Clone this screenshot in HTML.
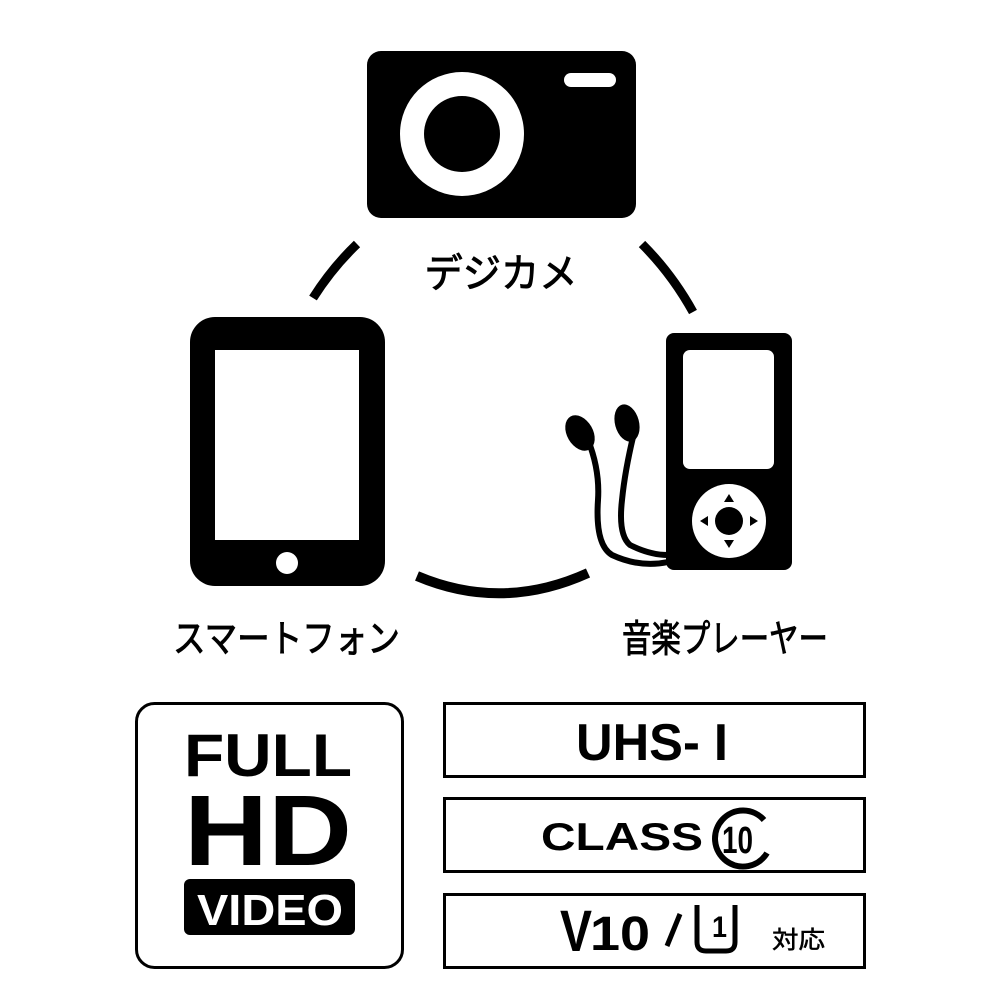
<!DOCTYPE html>
<html><head><meta charset="utf-8"><style>
html,body{margin:0;padding:0;background:#fff;}
svg{display:block;}
text{font-family:"Liberation Sans","Noto Sans CJK JP",sans-serif;}
.jp{stroke:#000;stroke-width:0.9;}
</style></head><body>
<svg width="1000" height="1000" viewBox="0 0 1000 1000" xmlns="http://www.w3.org/2000/svg">
<rect width="1000" height="1000" fill="#fff"/>
<rect x="367" y="51" width="269" height="167" rx="14" fill="#000"/>
<circle cx="462" cy="134" r="62" fill="#fff"/>
<circle cx="462" cy="134" r="38" fill="#000"/>
<rect x="564" y="73" width="52" height="14" rx="7" fill="#fff"/>
<text class="jp" x="501" y="287" font-size="40" text-anchor="middle" textLength="153" lengthAdjust="spacingAndGlyphs">デジカメ</text>
<path d="M313 298 Q332 268 357 244" fill="none" stroke="#000" stroke-width="9"/>
<path d="M642 244 Q672 274 693 312" fill="none" stroke="#000" stroke-width="9"/>
<path d="M417 576 Q502 612 588 573" fill="none" stroke="#000" stroke-width="10"/>
<rect x="190" y="317" width="195" height="269" rx="25" fill="#000"/>
<rect x="215" y="350" width="144" height="190" fill="#fff"/>
<circle cx="287" cy="563" r="11" fill="#fff"/>
<text class="jp" x="173" y="652" font-size="38" textLength="227" lengthAdjust="spacingAndGlyphs">スマートフォン</text>
<rect x="666" y="333" width="126" height="237" rx="8" fill="#000"/>
<rect x="683" y="350" width="91" height="119" rx="7" fill="#fff"/>
<circle cx="729" cy="521" r="37" fill="#fff"/>
<circle cx="729" cy="521" r="14" fill="#000"/>
<polygon points="729,494 724,502 734,502" fill="#000"/>
<polygon points="729,548 724,540 734,540" fill="#000"/>
<polygon points="700,521 708,516 708,526" fill="#000"/>
<polygon points="758,521 750,516 750,526" fill="#000"/>
<ellipse cx="580" cy="433" rx="13" ry="19" transform="rotate(-30 580 433)" fill="#000"/>
<ellipse cx="627" cy="423" rx="12" ry="19" transform="rotate(-15 627 423)" fill="#000"/>
<path d="M588 440 Q600 470 598 500 Q595 545 612 555 Q640 568 668 562" fill="none" stroke="#000" stroke-width="6"/>
<path d="M634 433 Q625 470 622 500 Q618 535 630 545 Q650 555 668 555" fill="none" stroke="#000" stroke-width="6"/>
<text class="jp" x="622" y="652" font-size="38" textLength="206" lengthAdjust="spacingAndGlyphs">音楽プレーヤー</text>
<rect x="136.5" y="703.5" width="266" height="264" rx="18" fill="none" stroke="#000" stroke-width="3"/>
<text x="184" y="776" font-size="60" font-weight="bold" textLength="168" lengthAdjust="spacingAndGlyphs">FULL</text>
<text x="184" y="865" font-size="100" font-weight="bold" textLength="168" lengthAdjust="spacingAndGlyphs">HD</text>
<rect x="184" y="879" width="171" height="56" rx="6" fill="#000"/>
<text x="197" y="925" font-size="44" font-weight="bold" fill="#fff" textLength="146" lengthAdjust="spacingAndGlyphs">VIDEO</text>
<rect x="444.5" y="703.5" width="420" height="73" fill="none" stroke="#000" stroke-width="3"/>
<rect x="444.5" y="798.5" width="420" height="73" fill="none" stroke="#000" stroke-width="3"/>
<rect x="444.5" y="894.5" width="420" height="73" fill="none" stroke="#000" stroke-width="3"/>
<text x="576" y="760" font-size="52" font-weight="bold" textLength="152" lengthAdjust="spacingAndGlyphs">UHS- I</text>
<text x="541" y="850" font-size="39" font-weight="bold" textLength="162" lengthAdjust="spacingAndGlyphs">CLASS</text>
<path d="M764 820 A28 28 0 1 0 767 853" fill="none" stroke="#000" stroke-width="6"/>
<text x="722" y="853" font-size="38" font-weight="bold" textLength="31" lengthAdjust="spacingAndGlyphs">10</text>
<text x="560" y="951" font-size="58" font-weight="bold" textLength="32" lengthAdjust="spacingAndGlyphs">V</text>
<text x="590" y="950" font-size="48" font-weight="bold" textLength="60" lengthAdjust="spacingAndGlyphs">10</text>
<path d="M680 914 L667 946" stroke="#000" stroke-width="5"/>
<path d="M697 905 V942 Q697 951 706 951 H726 Q735 951 735 942 V905" fill="none" stroke="#000" stroke-width="5"/>
<text x="712" y="937" font-size="30" font-weight="bold" textLength="15" lengthAdjust="spacingAndGlyphs">1</text>
<text class="jp" x="772" y="948" font-size="24" textLength="53" lengthAdjust="spacingAndGlyphs" style="stroke-width:0.5">対応</text>
</svg>
</body></html>
